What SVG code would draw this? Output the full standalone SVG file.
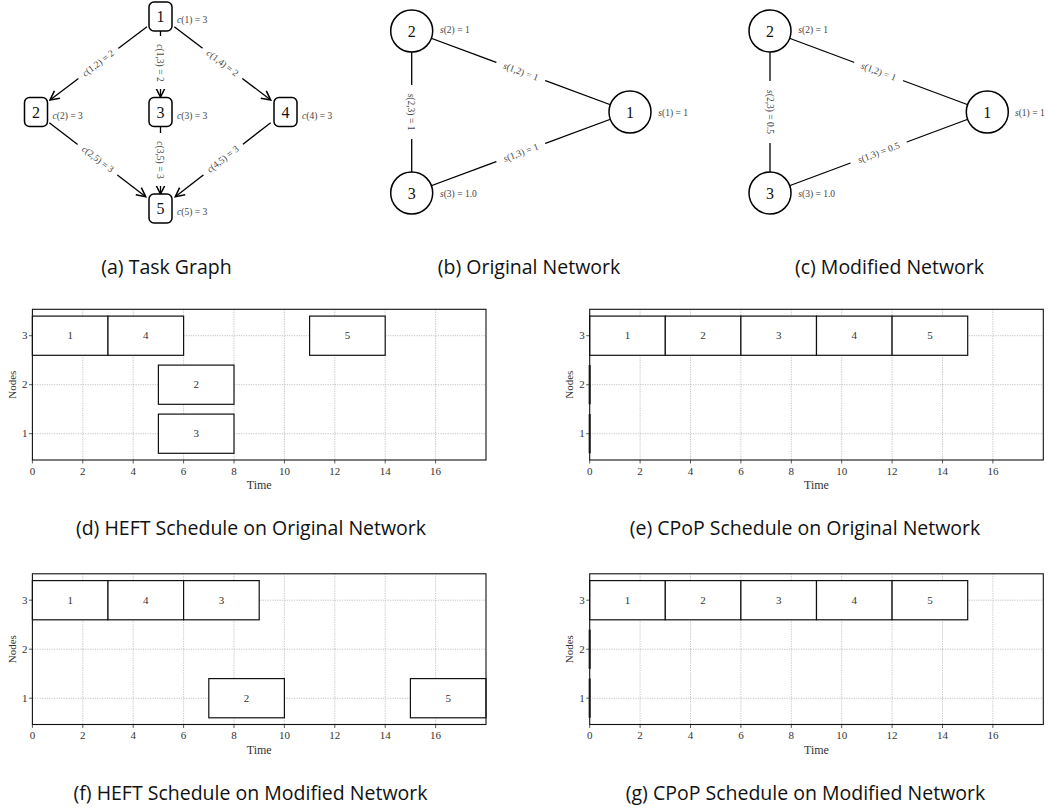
<svg xmlns="http://www.w3.org/2000/svg" width="1060" height="811" viewBox="0 0 1060 811">
<defs>
<style>
.bg{fill:#fff}
.tn{fill:#fff;stroke:#000;stroke-width:1.5}
.nn{font-family:"Liberation Serif","DejaVu Serif",serif;font-size:16px;fill:#111;text-anchor:middle}
.ml{font-family:"Liberation Serif","DejaVu Serif",serif;font-size:9.5px;fill:#444}
.mc{text-anchor:middle}
.edge{stroke:#000;stroke-width:1.3;fill:none}
.lb{fill:#fff}
.cap{font-family:"Open Sans","Noto Sans",sans-serif;font-size:19.5px;fill:#111;text-anchor:middle}
.spine{fill:none;stroke:#111;stroke-width:1.1}
.grid{stroke:#b4b4b4;stroke-width:0.8;stroke-dasharray:1.2 1.2;fill:none}
.tk{stroke:#333;stroke-width:0.8}
.tl{font-family:"Liberation Serif","DejaVu Serif",serif;font-size:11px;fill:#333}
.bar{fill:#fff;stroke:#111;stroke-width:1.2}
.bl{font-family:"Liberation Serif","DejaVu Serif",serif;font-size:11px;fill:#333;text-anchor:middle}
.zb{stroke:#333;stroke-width:2.2}
</style>
<marker id="arr" markerUnits="userSpaceOnUse" markerWidth="12" markerHeight="12" viewBox="-9 -5 10 10" refX="0" refY="0" orient="auto">
<path d="M-7.5,-3.8 L0,0 L-7.5,3.8" fill="none" stroke="#000" stroke-width="1.3"/>
</marker>
<g id="axes">
<path class="grid" d="M50.4,0V150.7M100.8,0V150.7M151.2,0V150.7M201.6,0V150.7M252,0V150.7M302.4,0V150.7M352.8,0V150.7M403.2,0V150.7M0,26.4H453.6M0,75.4H453.6M0,124.4H453.6"/>
<path class="tk" d="M0,150.7v3.5M50.4,150.7v3.5M100.8,150.7v3.5M151.2,150.7v3.5M201.6,150.7v3.5M252,150.7v3.5M302.4,150.7v3.5M352.8,150.7v3.5M403.2,150.7v3.5M0,26.4h-3.5M0,75.4h-3.5M0,124.4h-3.5"/>
<g class="tl" text-anchor="middle">
<text x="0" y="165.5">0</text><text x="50.4" y="165.5">2</text><text x="100.8" y="165.5">4</text><text x="151.2" y="165.5">6</text><text x="201.6" y="165.5">8</text><text x="252" y="165.5">10</text><text x="302.4" y="165.5">12</text><text x="352.8" y="165.5">14</text><text x="403.2" y="165.5">16</text>
<text x="226.8" y="180" font-size="12px">Time</text>
</g>
<g class="tl" text-anchor="end">
<text x="-5" y="30.2">3</text><text x="-5" y="79.2">2</text><text x="-5" y="128.2">1</text>
</g>
<text class="tl" font-size="12.5px" text-anchor="middle" transform="translate(-20.7,75.4) rotate(-90)" y="4">Nodes</text>
</g>
</defs>
<rect class="bg" x="0" y="0" width="1060" height="811"/>

<!-- (a) Task graph -->
<g id="taskgraph-edges">
<line class="edge" x1="147" y1="26.7" x2="50" y2="100" marker-end="url(#arr)"/>
<line class="edge" x1="160.5" y1="31" x2="160.5" y2="97" marker-end="url(#arr)"/>
<line class="edge" x1="174.3" y1="26.7" x2="270.7" y2="100" marker-end="url(#arr)"/>
<line class="edge" x1="49.3" y1="122.7" x2="145.7" y2="196.7" marker-end="url(#arr)"/>
<line class="edge" x1="160.5" y1="127" x2="160.5" y2="194" marker-end="url(#arr)"/>
<line class="edge" x1="270.7" y1="122.7" x2="175.3" y2="196.7" marker-end="url(#arr)"/>
<g transform="translate(98,63) rotate(-37.1)"><rect class="lb" x="-25" y="-6.5" width="50" height="13"/><text class="ml mc" y="3.3"><tspan font-style="italic">c</tspan>(1,2) = 2</text></g>
<g transform="translate(160.5,63) rotate(90)"><rect class="lb" x="-27" y="-6.5" width="53" height="13"/><text class="ml mc" y="3.3"><tspan font-style="italic">c</tspan>(1,3) = 2</text></g>
<g transform="translate(222.7,63) rotate(37.3)"><rect class="lb" x="-25" y="-6.5" width="50" height="13"/><text class="ml mc" y="3.3"><tspan font-style="italic">c</tspan>(1,4) = 2</text></g>
<g transform="translate(98,159) rotate(37.5)"><rect class="lb" x="-25" y="-6.5" width="50" height="13"/><text class="ml mc" y="3.3"><tspan font-style="italic">c</tspan>(2,5) = 3</text></g>
<g transform="translate(160.5,160) rotate(90)"><rect class="lb" x="-27" y="-6.5" width="53" height="13"/><text class="ml mc" y="3.3"><tspan font-style="italic">c</tspan>(3,5) = 3</text></g>
<g transform="translate(222.7,159) rotate(-37.8)"><rect class="lb" x="-25" y="-6.5" width="50" height="13"/><text class="ml mc" y="3.3"><tspan font-style="italic">c</tspan>(4,5) = 3</text></g>
</g>
<g id="task1"><rect class="tn" x="149" y="2" width="23" height="29" rx="5"/><text class="nn" x="160.5" y="22">1</text><text class="ml" x="177" y="22.5"><tspan font-style="italic">c</tspan>(1) = 3</text></g>
<g id="task2"><rect class="tn" x="24.5" y="97.5" width="23" height="29" rx="5"/><text class="nn" x="36" y="117.5">2</text><text class="ml" x="52.5" y="119"><tspan font-style="italic">c</tspan>(2) = 3</text></g>
<g id="task3"><rect class="tn" x="149" y="97.5" width="23" height="29" rx="5"/><text class="nn" x="160.5" y="117.5">3</text><text class="ml" x="177" y="119"><tspan font-style="italic">c</tspan>(3) = 3</text></g>
<g id="task4"><rect class="tn" x="274" y="97.5" width="23" height="29" rx="5"/><text class="nn" x="285.5" y="117.5">4</text><text class="ml" x="302" y="119"><tspan font-style="italic">c</tspan>(4) = 3</text></g>
<g id="task5"><rect class="tn" x="149" y="194" width="23" height="29" rx="5"/><text class="nn" x="160.5" y="214">5</text><text class="ml" x="177" y="214.5"><tspan font-style="italic">c</tspan>(5) = 3</text></g>
<text class="cap" x="166.5" y="274">(a) Task Graph</text>

<!-- (b) Original network -->
<g id="netb-edges">
<line class="edge" x1="411.7" y1="31" x2="630" y2="112"/>
<line class="edge" x1="411.7" y1="193" x2="630" y2="112"/>
<line class="edge" x1="411.7" y1="31" x2="411.7" y2="193"/>
<g transform="translate(520.8,71.5) rotate(20.4)"><rect class="lb" x="-26" y="-6.5" width="52" height="13"/><text class="ml mc" y="3.3"><tspan font-style="italic">s</tspan>(1,2) = 1</text></g>
<g transform="translate(520.8,152.5) rotate(-20.4)"><rect class="lb" x="-26" y="-6.5" width="52" height="13"/><text class="ml mc" y="3.3"><tspan font-style="italic">s</tspan>(1,3) = 1</text></g>
<g transform="translate(411.7,112) rotate(90)"><rect class="lb" x="-27" y="-6.5" width="54" height="13"/><text class="ml mc" y="3.3"><tspan font-style="italic">s</tspan>(2,3) = 1</text></g>
</g>
<g id="netb-n1"><circle class="tn" cx="630" cy="112" r="21"/><text class="nn" x="630" y="117.5">1</text><text class="ml" x="658.3" y="115.5"><tspan font-style="italic">s</tspan>(1) = 1</text></g>
<g id="netb-n2"><circle class="tn" cx="411.7" cy="31" r="21"/><text class="nn" x="411.7" y="36.5">2</text><text class="ml" x="440" y="32.5"><tspan font-style="italic">s</tspan>(2) = 1</text></g>
<g id="netb-n3"><circle class="tn" cx="411.7" cy="193" r="21"/><text class="nn" x="411.7" y="198.5">3</text><text class="ml" x="440" y="197"><tspan font-style="italic">s</tspan>(3) = 1.0</text></g>
<text class="cap" x="529" y="274">(b) Original Network</text>

<!-- (c) Modified network -->
<g id="netc-edges">
<line class="edge" x1="770" y1="31" x2="987.3" y2="112"/>
<line class="edge" x1="770" y1="193" x2="987.3" y2="112"/>
<line class="edge" x1="770" y1="31" x2="770" y2="193"/>
<g transform="translate(878.6,71.5) rotate(20.4)"><rect class="lb" x="-26" y="-6.5" width="52" height="13"/><text class="ml mc" y="3.3"><tspan font-style="italic">s</tspan>(1,2) = 1</text></g>
<g transform="translate(878.6,152.5) rotate(-20.4)"><rect class="lb" x="-30" y="-6.5" width="60" height="13"/><text class="ml mc" y="3.3"><tspan font-style="italic">s</tspan>(1,3) = 0.5</text></g>
<g transform="translate(770,112) rotate(90)"><rect class="lb" x="-31" y="-6.5" width="62" height="13"/><text class="ml mc" y="3.3"><tspan font-style="italic">s</tspan>(2,3) = 0.5</text></g>
</g>
<g id="netc-n1"><circle class="tn" cx="987.3" cy="112" r="21"/><text class="nn" x="987.3" y="117.5">1</text><text class="ml" x="1015" y="115.5"><tspan font-style="italic">s</tspan>(1) = 1</text></g>
<g id="netc-n2"><circle class="tn" cx="770" cy="31" r="21"/><text class="nn" x="770" y="36.5">2</text><text class="ml" x="798.3" y="32.5"><tspan font-style="italic">s</tspan>(2) = 1</text></g>
<g id="netc-n3"><circle class="tn" cx="770" cy="193" r="21"/><text class="nn" x="770" y="198.5">3</text><text class="ml" x="798.3" y="197"><tspan font-style="italic">s</tspan>(3) = 1.0</text></g>
<text class="cap" x="889.5" y="274">(c) Modified Network</text>

<!-- (d) HEFT original -->
<g id="plot-d" transform="translate(32.4,309.3)">
<use href="#axes"/>
<rect class="bar" x="0" y="6.8" width="75.6" height="39.2"/><text class="bl" x="37.8" y="30.2">1</text>
<rect class="bar" x="75.6" y="6.8" width="75.6" height="39.2"/><text class="bl" x="113.4" y="30.2">4</text>
<rect class="bar" x="277.2" y="6.8" width="75.6" height="39.2"/><text class="bl" x="315" y="30.2">5</text>
<rect class="bar" x="126" y="55.8" width="75.6" height="39.2"/><text class="bl" x="163.8" y="79.2">2</text>
<rect class="bar" x="126" y="104.8" width="75.6" height="39.2"/><text class="bl" x="163.8" y="128.2">3</text>
<rect class="spine" x="0" y="0" width="453.6" height="150.7"/>
</g>
<text class="cap" x="251" y="535">(d) HEFT Schedule on Original Network</text>

<!-- (e) CPoP original -->
<g id="plot-e" transform="translate(589.7,309.3)">
<use href="#axes"/>
<rect class="bar" x="0" y="6.8" width="75.6" height="39.2"/><text class="bl" x="37.8" y="30.2">1</text>
<rect class="bar" x="75.6" y="6.8" width="75.6" height="39.2"/><text class="bl" x="113.4" y="30.2">2</text>
<rect class="bar" x="151.2" y="6.8" width="75.6" height="39.2"/><text class="bl" x="189" y="30.2">3</text>
<rect class="bar" x="226.8" y="6.8" width="75.6" height="39.2"/><text class="bl" x="264.6" y="30.2">4</text>
<rect class="bar" x="302.4" y="6.8" width="75.6" height="39.2"/><text class="bl" x="340.2" y="30.2">5</text>
<line class="zb" x1="0" y1="55.8" x2="0" y2="95"/><line class="zb" x1="0" y1="104.8" x2="0" y2="144"/>
<rect class="spine" x="0" y="0" width="453.6" height="150.7"/>
</g>
<text class="cap" x="805" y="535">(e) CPoP Schedule on Original Network</text>

<!-- (f) HEFT modified -->
<g id="plot-f" transform="translate(32.4,573.8)">
<use href="#axes"/>
<rect class="bar" x="0" y="6.8" width="75.6" height="39.2"/><text class="bl" x="37.8" y="30.2">1</text>
<rect class="bar" x="75.6" y="6.8" width="75.6" height="39.2"/><text class="bl" x="113.4" y="30.2">4</text>
<rect class="bar" x="151.2" y="6.8" width="75.6" height="39.2"/><text class="bl" x="189" y="30.2">3</text>
<rect class="bar" x="176.4" y="104.8" width="75.6" height="39.2"/><text class="bl" x="214.2" y="128.2">2</text>
<rect class="bar" x="378" y="104.8" width="75.6" height="39.2"/><text class="bl" x="415.8" y="128.2">5</text>
<rect class="spine" x="0" y="0" width="453.6" height="150.7"/>
</g>
<text class="cap" x="250.5" y="800">(f) HEFT Schedule on Modified Network</text>

<!-- (g) CPoP modified -->
<g id="plot-g" transform="translate(589.7,573.8)">
<use href="#axes"/>
<rect class="bar" x="0" y="6.8" width="75.6" height="39.2"/><text class="bl" x="37.8" y="30.2">1</text>
<rect class="bar" x="75.6" y="6.8" width="75.6" height="39.2"/><text class="bl" x="113.4" y="30.2">2</text>
<rect class="bar" x="151.2" y="6.8" width="75.6" height="39.2"/><text class="bl" x="189" y="30.2">3</text>
<rect class="bar" x="226.8" y="6.8" width="75.6" height="39.2"/><text class="bl" x="264.6" y="30.2">4</text>
<rect class="bar" x="302.4" y="6.8" width="75.6" height="39.2"/><text class="bl" x="340.2" y="30.2">5</text>
<line class="zb" x1="0" y1="55.8" x2="0" y2="95"/><line class="zb" x1="0" y1="104.8" x2="0" y2="144"/>
<rect class="spine" x="0" y="0" width="453.6" height="150.7"/>
</g>
<text class="cap" x="805.5" y="800">(g) CPoP Schedule on Modified Network</text>
</svg>
